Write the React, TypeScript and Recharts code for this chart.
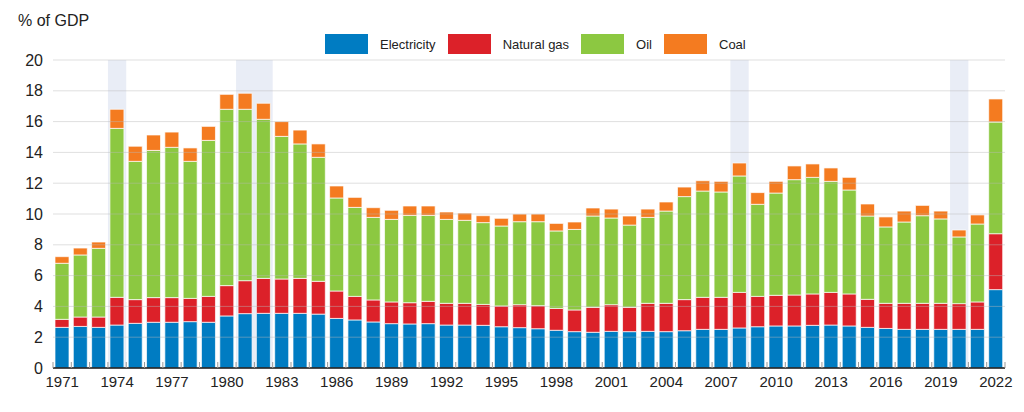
import React from 'react';
import { BarChart, Bar, XAxis, YAxis, ReferenceArea, ReferenceLine } from 'recharts';

const years = [
    1971, 1972, 1973, 1974, 1975, 1976, 1977, 1978, 1979, 1980,
    1981, 1982, 1983, 1984, 1985, 1986, 1987, 1988, 1989, 1990,
    1991, 1992, 1993, 1994, 1995, 1996, 1997, 1998, 1999, 2000,
    2001, 2002, 2003, 2004, 2005, 2006, 2007, 2008, 2009, 2010,
    2011, 2012, 2013, 2014, 2015, 2016, 2017, 2018, 2019, 2020,
    2021, 2022,
];

const electricity = [
    2.64, 2.7, 2.64, 2.79, 2.9, 2.97, 2.97, 3.01, 2.97, 3.38,
    3.53, 3.55, 3.55, 3.55, 3.5, 3.22, 3.12, 2.99, 2.88, 2.86,
    2.88, 2.79, 2.79, 2.77, 2.68, 2.62, 2.55, 2.45, 2.36, 2.32,
    2.38, 2.36, 2.38, 2.36, 2.42, 2.51, 2.51, 2.6, 2.68, 2.73,
    2.73, 2.77, 2.79, 2.73, 2.64, 2.57, 2.51, 2.51, 2.51, 2.51,
    2.51, 5.09,
];

const naturalGas = [
    0.52, 0.61, 0.67, 1.8, 1.54, 1.6, 1.6, 1.51, 1.68, 1.97,
    2.14, 2.27, 2.23, 2.27, 2.13, 1.78, 1.53, 1.43, 1.41, 1.38,
    1.45, 1.41, 1.41, 1.36, 1.35, 1.49, 1.5, 1.42, 1.41, 1.62,
    1.73, 1.58, 1.82, 1.84, 2.02, 2.08, 2.08, 2.31, 1.97, 1.99,
    2.01, 2.04, 2.12, 2.08, 1.82, 1.63, 1.69, 1.69, 1.69, 1.67,
    1.78, 3.63,
];

const oil = [
    3.64, 4.03, 4.46, 10.97, 8.98, 9.56, 9.76, 8.9, 10.13, 11.45,
    11.13, 10.33, 9.26, 8.73, 8.05, 6.04, 5.78, 5.36, 5.36, 5.67,
    5.58, 5.45, 5.39, 5.31, 5.19, 5.39, 5.45, 5.03, 5.23, 5.93,
    5.63, 5.34, 5.58, 5.99, 6.69, 6.9, 6.84, 7.56, 5.98, 6.64,
    7.49, 7.57, 7.21, 6.75, 5.41, 4.96, 5.28, 5.69, 5.48, 4.33,
    5.06, 7.25,
];

const coal = [
    0.43, 0.45, 0.41, 1.24, 0.98, 1.0, 0.99, 0.87, 0.91, 0.97,
    1.04, 1.04, 0.96, 0.9, 0.87, 0.78, 0.65, 0.63, 0.59, 0.61,
    0.61, 0.48, 0.47, 0.45, 0.5, 0.5, 0.5, 0.49, 0.48, 0.52,
    0.58, 0.59, 0.54, 0.59, 0.62, 0.67, 0.69, 0.84, 0.76, 0.76,
    0.89, 0.87, 0.87, 0.82, 0.78, 0.65, 0.71, 0.67, 0.51, 0.45,
    0.59, 1.5,
];

const yTicks = [0, 2, 4, 6, 8, 10, 12, 14, 16, 18, 20];
const shadedPeriods = [
    [1974, 1974],
    [1981, 1982],
    [2008, 2008],
    [2020, 2020],
];

const SERIES = [
    { key: 'electricity', name: 'Electricity', color: '#007cc2' },
    { key: 'naturalGas', name: 'Natural gas', color: '#dc2129' },
    { key: 'oil', name: 'Oil', color: '#8cc841' },
    { key: 'coal', name: 'Coal', color: '#f47b20' },
];

const data = years.map((year, i) => ({
    year,
    electricity: electricity[i],
    naturalGas: naturalGas[i],
    oil: oil[i],
    coal: coal[i],
}));

const WIDTH = 1024;
const HEIGHT = 412;
const MARGIN = { top: 60, right: 19, bottom: 14, left: 0 };
const Y_WIDTH = 53;
const BAND = (WIDTH - MARGIN.right - MARGIN.left - Y_WIDTH) / years.length;

const FONT = '"Liberation Sans", Arial, sans-serif';

const YearTick = (props: any) => {
    const { x, y, payload, index } = props;
    const left = x - BAND / 2;
    return (
        <g>
            <line x1={left} x2={left} y1={y - 14} y2={y - 8} stroke="#999" strokeWidth={1} />
            {index === years.length - 1 && (
                <line x1={x + BAND / 2} x2={x + BAND / 2} y1={y - 14} y2={y - 8} stroke="#999" strokeWidth={1} />
            )}
            {index % 3 === 0 && (
                <text x={x} y={y + 11} textAnchor="middle" fontSize={15} fill="#222" fontFamily={FONT}>
                    {payload.value}
                </text>
            )}
        </g>
    );
};

const CustomLegend = () => (
    <div
        style={{
            position: 'absolute',
            left: 325,
            top: 34,
            display: 'flex',
            alignItems: 'center',
            fontFamily: FONT,
            fontSize: 13,
            color: '#222',
        }}
    >
        {SERIES.map((s) => (
            <div key={s.key} style={{ display: 'flex', alignItems: 'center', marginRight: 12 }}>
                <span style={{ width: 43, height: 20, backgroundColor: s.color, display: 'inline-block' }}></span>
                <span style={{ marginLeft: 12 }}>{s.name}</span>
            </div>
        ))}
    </div>
);

const App: React.FC = () => {
    return (
        <div style={{ position: 'absolute', left: 0, top: 0, width: WIDTH, height: HEIGHT, background: '#fff' }}>
            <div style={{ position: 'absolute', left: 18, top: 12, fontFamily: FONT, fontSize: 16, color: '#222' }}>
                % of GDP
            </div>
            <CustomLegend />
            <BarChart width={WIDTH} height={HEIGHT} data={data} margin={MARGIN} barCategoryGap={2}>
                {shadedPeriods.map(([a, b]) => (
                    <ReferenceArea key={a} x1={a} x2={b} y1={0} y2={20} fill="#e9edf6" fillOpacity={1} stroke="none" ifOverflow="visible" />
                ))}
                <XAxis
                    dataKey="year"
                    interval={0}
                    tickLine={false}
                    axisLine={{ stroke: '#111', strokeWidth: 1.5 }}
                    tick={<YearTick />}
                    height={30}
                />
                <YAxis
                    domain={[0, 20]}
                    ticks={yTicks}
                    width={Y_WIDTH}
                    axisLine={false}
                    tickLine={false}
                    tickMargin={4}
                    tick={{ fontSize: 16, fill: '#222', fontFamily: FONT }}
                />
                {SERIES.map((s) => (
                    <Bar
                        key={s.key}
                        dataKey={s.key}
                        name={s.name}
                        stackId="a"
                        fill={s.color}
                        stroke="#fff"
                        strokeWidth={0.7}
                        isAnimationActive={false}
                    />
                ))}
                {yTicks.slice(1).map((t) => (
                    <ReferenceLine key={t} y={t} stroke="#b8b8b8" strokeOpacity={0.45} strokeWidth={1} />
                ))}
            </BarChart>
        </div>
    );
};

export default App;
